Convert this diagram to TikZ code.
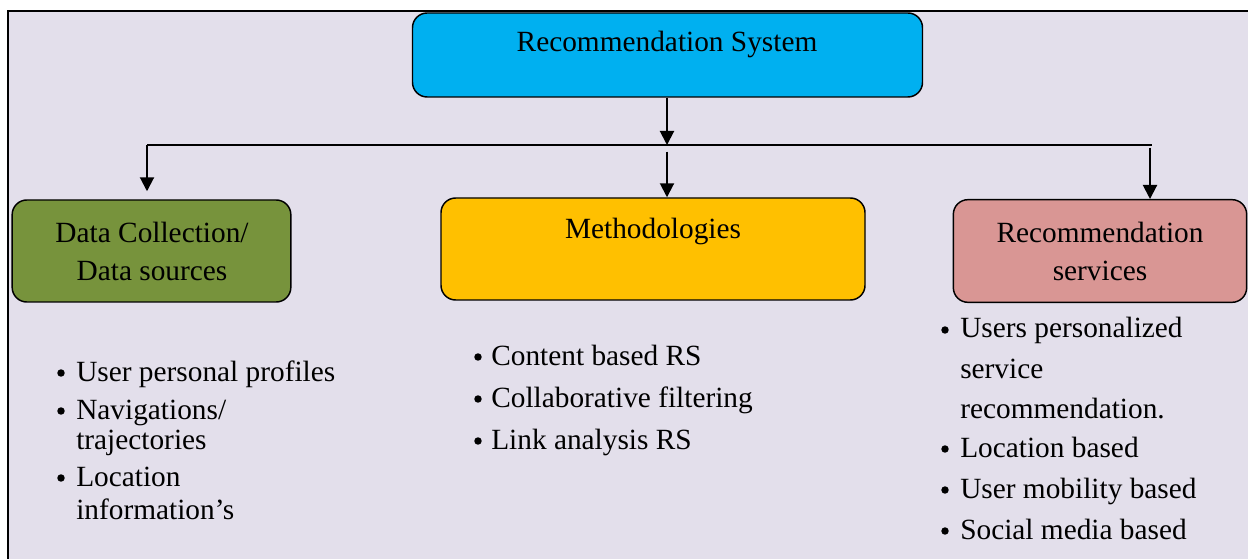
\documentclass[tikz,border=0pt]{standalone}
\usepackage{fontspec}
\setmainfont{Liberation Serif}
\usetikzlibrary{arrows.meta}
\definecolor{bgcol}{HTML}{E3DFEB}
\definecolor{topcol}{HTML}{00B0F0}
\definecolor{greencol}{HTML}{77933C}
\definecolor{yellowcol}{HTML}{FFC000}
\definecolor{pinkcol}{HTML}{D99694}
\begin{document}
\begin{tikzpicture}[x=0.75pt,y=-0.75pt,
  font=\fontsize{22}{28.5}\selectfont,
  rsbox/.style={draw=black, line width=1.1pt, rounded corners=11pt, inner sep=0pt},
  lbl/.style={inner sep=0pt, align=center},
  item/.style={anchor=base west, inner sep=0pt},
  dot/.style={circle, fill=black, inner sep=0pt, minimum size=5.6pt},
  conn/.style={line width=1.5pt, -{Triangle[length=10.5pt,width=10.5pt]}},
  bus/.style={line width=1.5pt}]
\useasboundingbox (0,0) rectangle (1248,559);
% panel background and frame
\fill[bgcol] (8,11) rectangle (1248,559);
\draw[line width=1.5pt] (8,559) -- (8,11) -- (1248,11);

% boxes
\node[rsbox, fill=topcol, minimum width=382.5pt, minimum height=63pt] (top) at (667.5,55) {};
\node[lbl] (toptxt) at (667,44) {Recommendation System};

\node[rsbox, fill=greencol, minimum width=209pt, minimum height=76.5pt] (data) at (151.5,251) {};
\node[lbl] (datatxt) at (152,251) {Data Collection/\\Data sources};

\node[rsbox, fill=yellowcol, minimum width=318pt, minimum height=76.5pt] (meth) at (653,249) {};
\node[lbl] (methtxt) at (653,231) {Methodologies};

\node[rsbox, fill=pinkcol, minimum width=220pt, minimum height=77pt] (serv) at (1100,251) {};
\node[lbl] (servtxt) at (1100,251) {Recommendation\\services};

% connectors
\coordinate (busL) at (147,145);
\coordinate (busM) at (667,145);
\coordinate (busR) at (1152,145);
\draw[conn] (top.south -| busM) -- (busM);
\draw[bus] (busL) -- (busR);
\draw[conn, shorten >=6pt] (busL) -- (busL |- data.north);
\draw[conn, shorten <=5pt] (busM) -- (busM |- meth.north);
\draw[conn, shorten <=2pt] (1150,145) -- (1150,199);

% data sources list
\node[dot] (d1b) at (61,373) {};
\node[item] (d1) at (76,381) {User personal profiles};
\node[dot] (d2b) at (61,411) {};
\node[item] (d2) at (76,419) {Navigations/};
\node[item] (d2c) at (76,449) {trajectories};
\node[dot] (d3b) at (61,478) {};
\node[item] (d3) at (76,486) {Location};
\node[item] (d3c) at (76,519) {information’s};

% methodologies list
\node[dot] (m1b) at (478,357) {};
\node[item] (m1) at (491,365) {Content based RS};
\node[dot] (m2b) at (478,399) {};
\node[item] (m2) at (491,407) {Collaborative filtering};
\node[dot] (m3b) at (478,441) {};
\node[item] (m3) at (491,449) {Link analysis RS};

% services list
\node[dot] (s1b) at (945,330) {};
\node[item] (s1) at (960,338) {Users personalized};
\node[item] (s1c) at (960,378) {service};
\node[item] (s1d) at (960,418) {recommendation.};
\node[dot] (s2b) at (945,449) {};
\node[item] (s2) at (960,457) {Location based};
\node[dot] (s3b) at (945,490) {};
\node[item] (s3) at (960,498) {User mobility based};
\node[dot] (s4b) at (945,531) {};
\node[item] (s4) at (960,539) {Social media based};
\end{tikzpicture}
\end{document}
